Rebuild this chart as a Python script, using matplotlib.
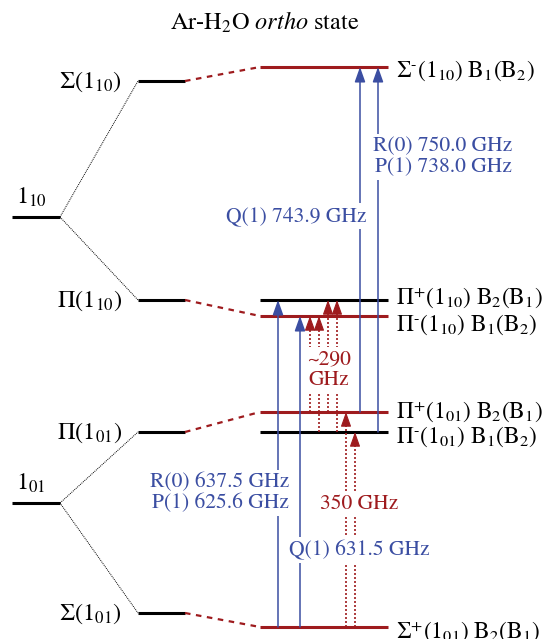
import matplotlib.pyplot as plt

plt.rcParams['font.family'] = ['STIXGeneral', 'DejaVu Serif']
plt.rcParams['mathtext.fontset'] = 'stix'

red = '#9e1b1e'
blue = '#3b4ea2'

# energy levels, y = row in the drawing (0 at the top)
left_labels = [r'$1_{10}$', r'$1_{01}$']
left_y = [217, 503]

mid_labels = [r'$\Sigma(1_{10})$', r'$\Pi(1_{10})$', r'$\Pi(1_{01})$', r'$\Sigma(1_{01})$']
mid_y = [81, 300, 432, 613]
mid_parent = [0, 0, 1, 1]
mid_child = [0, 2, 3, 5]

right_labels = [r'$\Sigma^{‐}(1_{10})\ \mathrm{B}_1(\mathrm{B}_2)$',
                r'$\Pi^{+}(1_{10})\ \mathrm{B}_2(\mathrm{B}_1)$',
                r'$\Pi^{‐}(1_{10})\ \mathrm{B}_1(\mathrm{B}_2)$',
                r'$\Pi^{+}(1_{01})\ \mathrm{B}_2(\mathrm{B}_1)$',
                r'$\Pi^{‐}(1_{01})\ \mathrm{B}_1(\mathrm{B}_2)$',
                r'$\Sigma^{+}(1_{01})\ \mathrm{B}_2(\mathrm{B}_1)$']
right_y = [67, 300, 316, 412, 432, 627]
right_red = [True, False, True, True, False, True]

# blue transitions (lower level -> upper level, right column indices)
blue_lower = [5, 5, 3, 4]
blue_upper = [1, 2, 0, 0]
# red transitions
red_lower = [3, 4, 3, 4, 5, 5]
red_upper = [2, 2, 1, 1, 3, 4]

fig = plt.figure(figsize=(5.44, 6.39), dpi=100)
ax = fig.add_axes([0, 0, 1, 1])
ax.set_xlim(0, 544)
ax.set_ylim(639, 0)
ax.axis('off')

# columns
lx0, lx1 = 12, 60
mx0, mx1 = 138, 185
rx0, rx1 = 260, 388
lfs = 17.5

for y, lab in zip(left_y, left_labels):
    ax.plot([lx0, lx1], [y, y], color='black', lw=2.2, solid_capstyle='butt')
    ax.text(lx0 + 4, y - 20, lab, fontsize=lfs, ha='left', va='center')

for y, lab, p, c in zip(mid_y, mid_labels, mid_parent, mid_child):
    ax.plot([mx0, mx1], [y, y], color='black', lw=2.2, solid_capstyle='butt')
    ax.text(mx0 - 16, y + 1, lab, fontsize=lfs, ha='right', va='center')
    ax.plot([lx1, mx0], [left_y[p], y], color='black', lw=0.7, ls=(0, (1, 1)))
    ax.plot([mx1, rx0], [y, right_y[c]], color=red, lw=1.6, ls=(0, (2.5, 2.5)))

label_dy = [4, -2, 9, 0, 5, 5]
for y, lab, isred, dy in zip(right_y, right_labels, right_red, label_dy):
    ax.plot([rx0, rx1], [y, y], color=red if isred else 'black', lw=2.2,
            solid_capstyle='butt')
    ax.text(rx1 + 8, y + dy, lab, fontsize=16.8, ha='left', va='center')

head = '-|>,head_length=0.9,head_width=0.32'


def arrow(x, y0, y1, color, dotted=False):
    if dotted:
        ax.plot([x, x], [y0, y1 + 10], color=color, lw=1.2, ls=(0, (1.2, 1.2)))
        ax.annotate('', xy=(x, y1), xytext=(x, y1 + 10),
                    arrowprops=dict(arrowstyle=head, mutation_scale=10, color=color,
                                    lw=0.8, shrinkA=0, shrinkB=0))
    else:
        ax.annotate('', xy=(x, y1), xytext=(x, y0),
                    arrowprops=dict(arrowstyle=head, mutation_scale=10, color=color,
                                    lw=1.1, shrinkA=0, shrinkB=0))


blue_x = [278, 300, 360, 378]
for x, lo, up in zip(blue_x, blue_lower, blue_upper):
    arrow(x, right_y[lo], right_y[up], blue)

red_x = [310, 319, 328, 337, 346, 355]
for x, lo, up in zip(red_x, red_lower, red_upper):
    arrow(x, right_y[lo], right_y[up], red, dotted=True)

box = dict(facecolor='white', edgecolor='none', pad=2)
fs = 15.5
ax.text(443, 157, 'R(0) 750.0 GHz\nP(1) 738.0 GHz', color=blue, fontsize=fs,
        ha='center', va='center', linespacing=1.05, bbox=box)
ax.text(296, 216, 'Q(1) 743.9 GHz', color=blue, fontsize=fs,
        ha='center', va='center', bbox=box)
ax.text(220, 493, 'R(0) 637.5 GHz\nP(1) 625.6 GHz', color=blue, fontsize=fs,
        ha='center', va='center', linespacing=1.05, bbox=box)
ax.text(359, 550, 'Q(1) 631.5 GHz', color=blue, fontsize=fs,
        ha='center', va='center', bbox=box)
ax.text(329, 370, '~290\nGHz', color=red, fontsize=fs,
        ha='center', va='center', linespacing=1.05, bbox=box)
ax.text(359, 504, '350 GHz', color=red, fontsize=fs,
        ha='center', va='center', bbox=box)

ax.text(265, 22, r'Ar-H$_2$O $\it{ortho}$ state', fontsize=17.5, ha='center', va='center')

fig.savefig('out.png', dpi=100)
